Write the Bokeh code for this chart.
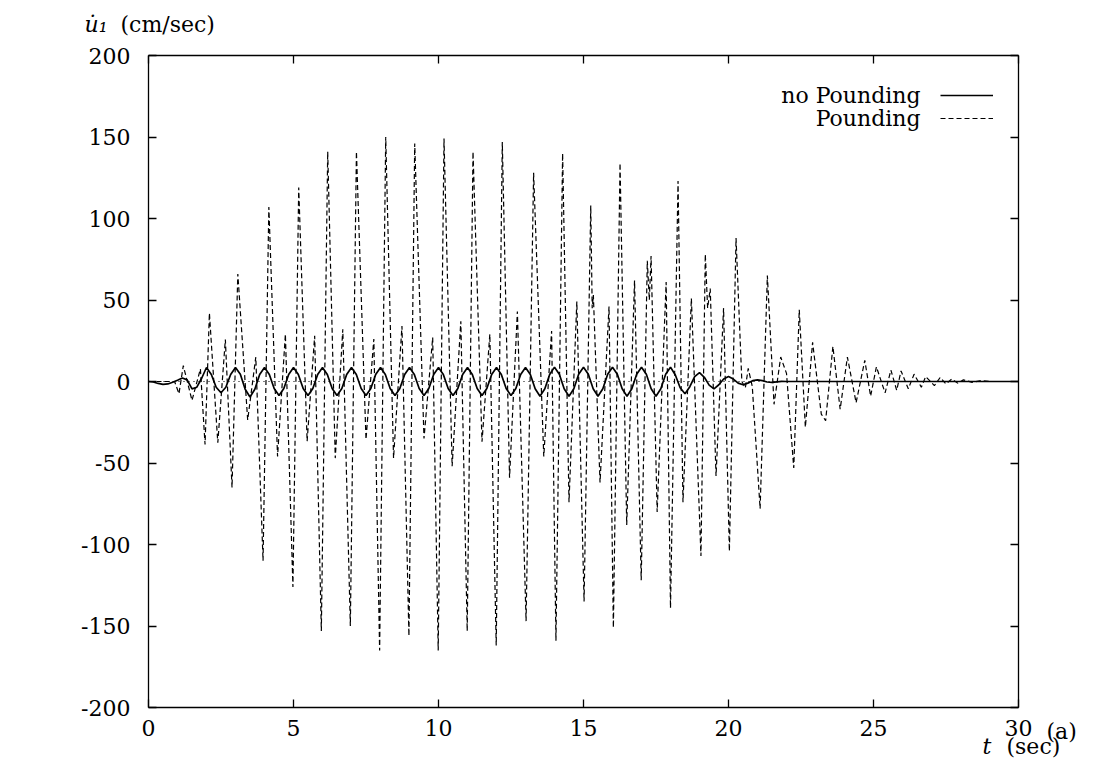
import numpy as np
from bokeh.plotting import figure
from bokeh.models import (Range1d, LinearAxis, Label, Legend, LegendItem,
                          FixedTicker)
from bokeh.embed import file_html
from bokeh.resources import INLINE

# ---------------- data ----------------
x_ticks = [0, 5, 10, 15, 20, 25, 30]
y_ticks = [-200, -150, -100, -50, 0, 50, 100, 150, 200]
y_tick_labels = ["-200", "-150", "-100", "-50", "0", "50", "100", "150", "200"]

# "no Pounding": read every 1/6 s from t = 0 to t = 22, then flat to 30
nopound_step = 1.0 / 6.0
nopound_vals = [
    0.0, -0.3, -1.2, -1.8, -1.5, -0.5,        # t = 0
    0.8, 2.2, 1.0, -4.5, -3.5, 2.0,           # t = 1
    8.6, 4.3, -3.5, -6.9, -3.5, 4.3,          # t = 2
    8.6, 4.5, -4.8, -9.5, -4.8, 4.3,          # t = 3
    8.6, 4.3, -4.3, -8.6, -4.3, 4.3,          # t = 4
    8.6, 4.3, -4.3, -8.6, -4.3, 4.3,          # t = 5
    8.6, 4.3, -4.3, -8.6, -4.3, 4.3,          # t = 6
    8.6, 4.3, -4.3, -8.6, -4.3, 4.3,          # t = 7
    8.6, 4.3, -4.3, -8.6, -4.3, 4.3,          # t = 8
    8.6, 4.3, -4.3, -8.6, -4.3, 4.3,          # t = 9
    8.6, 4.3, -4.3, -8.6, -4.3, 4.3,          # t = 10
    8.6, 4.3, -4.3, -8.6, -4.3, 4.3,          # t = 11
    8.6, 4.3, -4.3, -8.6, -4.3, 4.3,          # t = 12
    8.6, 4.3, -4.5, -9.0, -4.5, 4.3,          # t = 13
    8.8, 4.4, -4.5, -9.0, -4.5, 4.4,          # t = 14
    8.8, 4.4, -4.5, -9.0, -4.5, 4.4,          # t = 15
    8.8, 4.4, -4.5, -9.0, -4.5, 4.4,          # t = 16
    8.8, 4.4, -4.5, -9.0, -4.5, 4.4,          # t = 17
    8.8, 4.0, -3.8, -7.5, -3.2, 3.0,          # t = 18
    5.4, 2.6, -2.2, -4.5, -2.0, 1.5,          # t = 19
    3.0, 1.5, -1.0, -2.0, -1.0, 0.5,          # t = 20
    1.0, 0.5, -0.3, -0.5, -0.2, 0.1,          # t = 21
    0.0,                                      # t = 22
]
nopound_end_t = 30.0
nopound_end_v = 0.0

# "Pounding": turning points of the dashed trace
pound_t = [
    0.0, 0.9, 1.05, 1.2, 1.5, 1.79, 1.95, 2.1, 2.39, 2.65, 2.88, 3.08, 3.42, 3.7,
    3.95, 4.15, 4.45, 4.72,
    4.98, 5.18, 5.47, 5.73,
    5.96, 6.18, 6.44, 6.7,
    6.96, 7.17, 7.5, 7.77,
    7.97, 8.18, 8.45, 8.74,
    8.98, 9.18, 9.5, 9.8,
    9.99, 10.19, 10.47, 10.77,
    10.99, 11.19, 11.5, 11.77,
    11.99, 12.2, 12.45, 12.72,
    13.02, 13.28, 13.63, 13.9,
    14.05, 14.28, 14.5, 14.77,
    15.02, 15.25, 15.3, 15.34, 15.57, 15.88,
    16.03, 16.26, 16.49, 16.76,
    16.99, 17.2, 17.27, 17.33, 17.54, 17.85,
    18.0, 18.26, 18.43, 18.72,
    19.05, 19.2, 19.28, 19.37, 19.57, 19.83,
    20.03, 20.26, 20.46, 20.58, 20.68, 20.82,
    21.09, 21.34, 21.57, 21.8, 22.0,
    22.25, 22.44, 22.65, 22.9,
    23.2, 23.35, 23.6, 23.85, 24.1, 24.4, 24.7, 24.9, 25.1, 25.4, 25.6,
    25.8, 25.95, 26.2, 26.4, 26.65, 26.8, 27.1, 27.3, 27.5, 27.7,
    27.9, 28.1, 28.4, 28.7, 29.0, 30.0,
]
pound_v = [
    0.0, 0.0, -7.5, 9.7, -11.6, 7.7, -38.7, 42.0, -37.6, 25.8, -65.0, 66.0, -23.6, 15.0,
    -110.0, 107.0, -46.0, 29.0,
    -126.0, 119.0, -36.6, 28.0,
    -153.0, 141.0, -47.0, 32.0,
    -150.0, 141.0, -35.5, 26.0,
    -165.0, 150.0, -47.0, 34.0,
    -156.0, 146.0, -35.0, 27.0,
    -165.0, 149.0, -52.0, 37.0,
    -153.0, 141.0, -37.0, 29.0,
    -162.0, 147.0, -59.0, 43.0,
    -147.0, 128.0, -46.0, 31.0,
    -159.0, 140.0, -74.0, 49.0,
    -135.0, 108.0, 45.0, 53.0, -62.0, 46.0,
    -151.0, 134.0, -88.0, 62.0,
    -122.0, 74.0, 50.0, 77.0, -80.0, 61.0,
    -139.0, 123.0, -74.0, 51.0,
    -107.0, 78.0, 45.0, 57.0, -58.0, 45.0,
    -104.0, 88.0, 0.0, -4.0, 8.0, -3.0,
    -78.0, 65.0, -14.0, 15.0, 5.0,
    -53.0, 44.0, -28.0, 24.0,
    -20.0, -24.0, 21.5, -17.0, 15.0, -13.0, 13.0, -9.0, 9.0, -7.0, 7.0,
    -5.4, 6.5, -4.5, 4.5, -3.5, 3.0, -2.5, 2.5, -1.5, 1.5,
    -1.0, 1.0, -0.5, 0.5, 0.0, 0.0,
]

# ---------------- layout (page pixels) ----------------
W, H = 1110, 760
BOX_L, BOX_R, BOX_T, BOX_B = 148, 1018, 55, 707     # where the box sits
FONT = "DejaVu Serif"
FS = "22px"

x0, x1 = x_ticks[0], x_ticks[-1]
y0, y1 = y_ticks[0], y_ticks[-1]
sx = (BOX_R - BOX_L) / (x1 - x0)
sy = (BOX_B - BOX_T) / (y1 - y0)
x_range = Range1d(x0 - BOX_L / sx, x1 + (W - BOX_R) / sx)
y_range = Range1d(y0 - (H - BOX_B) / sy, y1 + BOX_T / sy)

p = figure(width=W, height=H, x_range=x_range, y_range=y_range,
           output_backend="svg", toolbar_location=None,
           min_border_left=0, min_border_right=0, min_border_top=0,
           min_border_bottom=0, x_axis_location=None, y_axis_location=None)
p.background_fill_color = "white"
p.border_fill_color = "white"
p.outline_line_color = None
p.xgrid.visible = False
p.ygrid.visible = False


def make_axis(ticks, labels, loc, bounds, show_labels, standoff):
    ax = LinearAxis(fixed_location=loc, bounds=bounds)
    ax.ticker = FixedTicker(ticks=ticks)
    ax.major_label_overrides = {t: s for t, s in zip(ticks, labels)}
    ax.major_tick_in = 8
    ax.major_tick_out = 0
    ax.minor_tick_line_color = None
    ax.axis_line_color = "black"
    ax.axis_line_width = 1.3
    ax.major_tick_line_color = "black"
    ax.major_tick_line_width = 1.3
    ax.major_label_text_font = FONT
    ax.major_label_text_font_size = FS
    ax.major_label_text_color = "black" if show_labels else None
    ax.major_label_standoff = standoff
    return ax


x_labels = [str(t) for t in x_ticks]
p.add_layout(make_axis(x_ticks, x_labels, y0, (x0, x1), True, 12), "below")
p.add_layout(make_axis(x_ticks, x_labels, y1, (x0, x1), False, 0), "above")
p.add_layout(make_axis(y_ticks, y_tick_labels, x0, (y0, y1), True, 18), "left")
p.add_layout(make_axis(y_ticks, y_tick_labels, x1, (y0, y1), False, 0), "right")

# dotted zero line across the box
p.line([x0, x1], [0, 0], line_color="black", line_width=1, line_dash="1 4")

nopound_t = list(np.arange(len(nopound_vals)) * nopound_step) + [nopound_end_t]
nopound_v = nopound_vals + [nopound_end_v]

r_np = p.line(nopound_t, nopound_v, line_color="black", line_width=1.7)
r_pd = p.line(pound_t, pound_v, line_color="black", line_width=1.2,
              line_dash="5 3")

# legend: glyph samples from the renderers, texts placed to their left
legend = Legend(items=[LegendItem(label=" ", renderers=[r_np]),
                       LegendItem(label=" ", renderers=[r_pd])],
                location=(940, H - 128), glyph_width=53, glyph_height=20,
                label_standoff=0, label_width=0, padding=0, spacing=3, margin=0,
                border_line_color=None, background_fill_alpha=0,
                label_text_font_size="10px")
p.add_layout(legend)


def add_text(txt, px, py, align="left", style="normal", size=FS):
    p.add_layout(Label(x=px, y=H - py, x_units="screen", y_units="screen",
                       text=txt, text_align=align, text_baseline="middle",
                       text_font=FONT, text_font_size=size,
                       text_font_style=style, text_color="black"))


add_text("no Pounding", 920, 95, align="right")
add_text("Pounding", 920, 118, align="right")
add_text("u\u0307\u2081", 84, 24, style="italic")
add_text("(cm/sec)", 120, 24)
add_text("(a)", 1046, 731)
add_text("t", 982, 746, style="italic")
add_text("(sec)", 1006, 746)

open("out.html", "w").write(file_html(p, INLINE))
